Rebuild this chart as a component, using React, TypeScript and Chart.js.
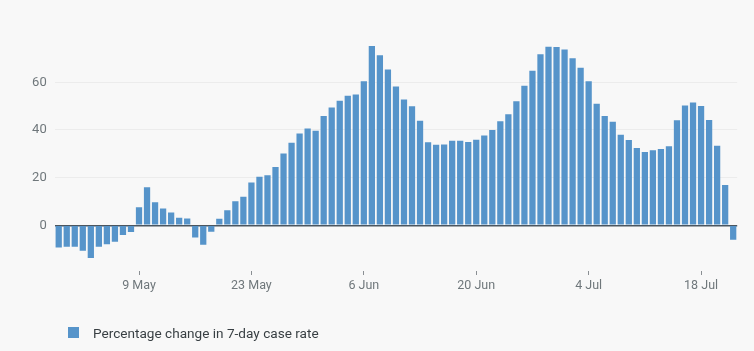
import React, { useEffect, useRef } from "react";
import { Chart, registerables } from "chart.js";

Chart.register(...registerables);

const categories = [
  "29 Apr", "30 Apr",
  "1 May", "2 May", "3 May", "4 May", "5 May", "6 May", "7 May", "8 May", "9 May", "10 May",
  "11 May", "12 May", "13 May", "14 May", "15 May", "16 May", "17 May", "18 May", "19 May", "20 May",
  "21 May", "22 May", "23 May", "24 May", "25 May", "26 May", "27 May", "28 May", "29 May", "30 May", "31 May",
  "1 Jun", "2 Jun", "3 Jun", "4 Jun", "5 Jun", "6 Jun", "7 Jun", "8 Jun", "9 Jun", "10 Jun",
  "11 Jun", "12 Jun", "13 Jun", "14 Jun", "15 Jun", "16 Jun", "17 Jun", "18 Jun", "19 Jun", "20 Jun",
  "21 Jun", "22 Jun", "23 Jun", "24 Jun", "25 Jun", "26 Jun", "27 Jun", "28 Jun", "29 Jun", "30 Jun",
  "1 Jul", "2 Jul", "3 Jul", "4 Jul", "5 Jul", "6 Jul", "7 Jul", "8 Jul", "9 Jul", "10 Jul",
  "11 Jul", "12 Jul", "13 Jul", "14 Jul", "15 Jul", "16 Jul", "17 Jul", "18 Jul", "19 Jul", "20 Jul",
  "21 Jul", "22 Jul",
];

const percentageChange = [
  -9.3, -9.0, -9.0, -10.7, -13.7, -9.0, -8.0, -6.9, -4.1, -2.8,
  7.6, 15.9, 9.7, 7.0, 5.4, 3.1, 2.8, -5.1, -8.2, -2.7,
  2.7, 6.3, 10.1, 12.0, 17.9, 20.4, 21.0, 24.4, 30.1, 34.6,
  38.5, 40.6, 39.7, 45.9, 49.4, 52.3, 54.4, 54.9, 60.4, 75.2,
  71.4, 65.4, 58.2, 52.8, 49.9, 43.9, 34.8, 33.8, 33.9, 35.5,
  35.5, 34.9, 35.9, 37.7, 40.0, 43.7, 46.6, 52.0, 58.5, 64.8,
  71.8, 74.9, 74.8, 73.8, 70.1, 66.1, 60.4, 51.0, 45.8, 43.4,
  38.0, 35.8, 32.4, 30.7, 31.5, 32.0, 33.2, 44.1, 50.3, 51.5,
  50.1, 44.2, 33.4, 16.9, -6.1,
];

const tickLabels = ["9 May", "23 May", "6 Jun", "20 Jun", "4 Jul", "18 Jul"];
const yTickValues = [0, 20, 40, 60];
const seriesName = "Percentage change in 7-day case rate";

const BAR_COLOR = "#5694ca";
const FONT = "Roboto, 'Noto Sans', sans-serif";

export default function App() {
  const canvasRef = useRef<HTMLCanvasElement | null>(null);

  useEffect(() => {
    document.body.style.margin = "0";
    document.body.style.background = "#f8f8f8";
    const canvas = canvasRef.current;
    if (!canvas) return;
    const chart = new Chart(canvas, {
      type: "bar",
      data: {
        labels: categories,
        datasets: [
          {
            label: seriesName,
            data: percentageChange,
            backgroundColor: BAR_COLOR,
            borderWidth: 0,
            barPercentage: 0.78,
            categoryPercentage: 1,
          },
        ],
      },
      options: {
        responsive: false,
        maintainAspectRatio: false,
        animation: false,
        layout: { padding: { top: 39.4, right: 16.8, left: 0, bottom: 0 } },
        plugins: {
          legend: { display: false },
          tooltip: { enabled: false },
        },
        scales: {
          x: {
            type: "category",
            offset: true,
            border: { display: false },
            grid: {
              offset: false,
              drawOnChartArea: false,
              drawTicks: true,
              tickLength: 4,
              color: (ctx: any) =>
                ctx.tick && tickLabels.includes(categories[ctx.index]) ? "#8a8f93" : "rgba(0,0,0,0)",
            },
            ticks: {
              autoSkip: false,
              maxRotation: 0,
              minRotation: 0,
              padding: 3,
              color: "#6f777b",
              font: { family: FONT, size: 12.5 },
              callback: (_v: any, i: number) =>
                tickLabels.includes(categories[i]) ? categories[i] : "",
            },
            afterFit: (scale: any) => {
              scale.height = 80;
            },
          },
          y: {
            min: -19.2,
            max: 78,
            border: { display: false },
            afterBuildTicks: (scale: any) => {
              scale.ticks = yTickValues.map((v) => ({ value: v }));
            },
            afterFit: (scale: any) => {
              scale.width = 54.7;
            },
            grid: {
              drawTicks: false,
              color: (ctx: any) => (ctx.tick && ctx.tick.value === 0 ? "#4b5660" : "#ececec"),
              lineWidth: (ctx: any) => (ctx.tick && ctx.tick.value === 0 ? 1.5 : 1),
            },
            ticks: {
              padding: 8,
              color: "#6f777b",
              font: { family: FONT, size: 13 },
            },
          },
        },
      },
    });
    return () => chart.destroy();
  }, []);

  return (
    <div style={{ position: "relative", width: 754, height: 351, background: "#f8f8f8" }}>
      <canvas ref={canvasRef} width={754} height={351} style={{ display: "block", width: 754, height: 351 }} />
      <div
        style={{
          position: "absolute",
          left: 68,
          top: 327,
          height: 11,
          display: "flex",
          alignItems: "center",
          fontFamily: FONT,
          fontSize: 13.6,
          color: "#383f43",
          whiteSpace: "nowrap",
        }}
      >
        <span style={{ display: "inline-block", width: 11, height: 11, background: BAR_COLOR }} />
        <span style={{ marginLeft: 14 }}>{seriesName}</span>
      </div>
    </div>
  );
}
